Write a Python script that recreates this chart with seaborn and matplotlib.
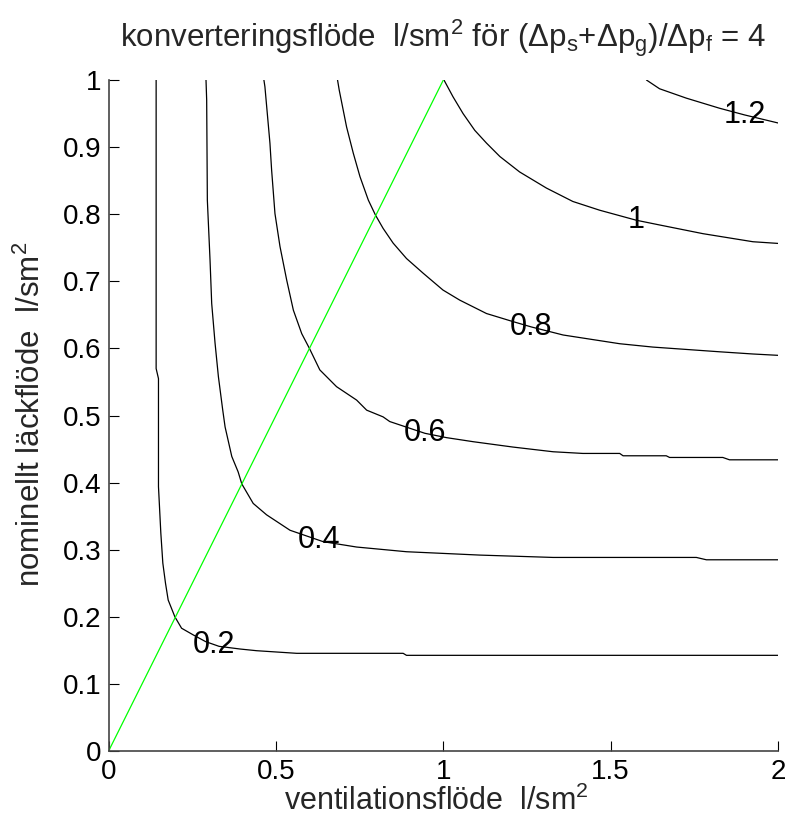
"""Contour chart of conversion flow vs ventilation and leakage flow."""
import matplotlib

matplotlib.use("Agg")
import matplotlib.pyplot as plt
import pandas as pd
import seaborn as sns

# contour levels and the points of each contour line
levels = [0.2, 0.4, 0.6, 0.8, 1.0, 1.2]

c02_x = [0.142, 0.142, 0.149, 0.149, 0.156, 0.162, 0.170, 0.178, 0.198, 0.218, 0.253, 0.290, 0.330, 0.393, 0.442, 0.562, 0.880, 0.890, 2.0]
c02_y = [1.0, 0.570, 0.555, 0.394, 0.325, 0.280, 0.250, 0.225, 0.200, 0.183, 0.173, 0.163, 0.156, 0.152, 0.1495, 0.1456, 0.1456, 0.1426, 0.1426]

c04_x = [0.291, 0.293, 0.295, 0.303, 0.308, 0.318, 0.328, 0.341, 0.348, 0.368, 0.387, 0.398, 0.432, 0.472, 0.542, 0.641, 0.741, 0.890, 1.000, 1.109, 1.328, 1.756, 1.786, 2.0]
c04_y = [1.0, 0.970, 0.821, 0.732, 0.667, 0.608, 0.558, 0.508, 0.483, 0.439, 0.416, 0.398, 0.369, 0.352, 0.329, 0.312, 0.304, 0.297, 0.2945, 0.292, 0.2885, 0.2885, 0.285, 0.285]

c06_x = [0.464, 0.467, 0.482, 0.487, 0.497, 0.512, 0.532, 0.552, 0.577, 0.600, 0.631, 0.681, 0.741, 0.771, 0.820, 0.840, 0.945, 1.010, 1.089, 1.208, 1.328, 1.417, 1.527, 1.537, 1.666, 1.676, 1.835, 1.855, 2.0]
c06_y = [1.0, 0.990, 0.906, 0.866, 0.801, 0.752, 0.702, 0.657, 0.622, 0.600, 0.568, 0.543, 0.523, 0.508, 0.498, 0.491, 0.4735, 0.467, 0.461, 0.453, 0.446, 0.4435, 0.4435, 0.440, 0.440, 0.4375, 0.4375, 0.434, 0.434]

c08_x = [0.684, 0.689, 0.711, 0.731, 0.751, 0.776, 0.797, 0.820, 0.850, 0.890, 0.940, 0.999, 1.049, 1.129, 1.208, 1.263, 1.358, 1.527, 1.626, 1.825, 1.925, 2.0]
c08_y = [1.0, 0.985, 0.930, 0.891, 0.856, 0.821, 0.799, 0.779, 0.757, 0.734, 0.712, 0.687, 0.672, 0.652, 0.640, 0.632, 0.620, 0.607, 0.602, 0.595, 0.5917, 0.5897]

c10_x = [1.002, 1.029, 1.059, 1.094, 1.129, 1.169, 1.228, 1.308, 1.387, 1.467, 1.577, 1.646, 1.776, 1.925, 2.0]
c10_y = [1.0, 0.975, 0.950, 0.925, 0.906, 0.886, 0.863, 0.839, 0.819, 0.806, 0.791, 0.784, 0.771, 0.759, 0.7565]

c12_x = [1.607, 1.646, 1.726, 1.825, 1.900, 2.0]
c12_y = [1.0, 0.987, 0.973, 0.958, 0.948, 0.936]

# where the level labels sit
label_text = ["0.2", "0.4", "0.6", "0.8", "1", "1.2"]
label_x = [0.315, 0.628, 0.945, 1.263, 1.577, 1.900]
label_y = [0.158, 0.315, 0.4735, 0.632, 0.791, 0.948]

# diagonal reference line
diag_x = [0.0, 1.0]
diag_y = [0.0, 1.0]

sns.set_theme(style="white")
plt.rcParams["font.family"] = ["Liberation Sans", "DejaVu Sans"]
plt.rcParams["mathtext.default"] = "regular"

contours = [(c02_x, c02_y), (c04_x, c04_y), (c06_x, c06_y), (c08_x, c08_y), (c10_x, c10_y), (c12_x, c12_y)]
frames = [pd.DataFrame({"x": cx, "y": cy, "level": lev}) for lev, (cx, cy) in zip(levels, contours)]
df = pd.concat(frames, ignore_index=True)

fig = plt.figure(figsize=(7.87, 8.38), dpi=100)
ax = fig.add_axes([0.138, 0.1038, 0.8506, 0.8007])

sns.lineplot(data=df, x="x", y="y", units="level", estimator=None, sort=False, color="black", linewidth=0.9, ax=ax, legend=False)
sns.lineplot(x=diag_x, y=diag_y, color="#00ff00", linewidth=0.9, ax=ax)

for txt, lx, ly in zip(label_text, label_x, label_y):
    ax.text(lx, ly, txt, fontsize=22, ha="center", va="center", color="black")

ax.set_xlim(0, 2)
ax.set_ylim(0, 1)
ax.set_xticks([0, 0.5, 1, 1.5, 2])
ax.set_xticklabels(["0", "0.5", "1", "1.5", "2"])
ax.set_yticks([i / 10 for i in range(11)])
ax.set_yticklabels(["0", "0.1", "0.2", "0.3", "0.4", "0.5", "0.6", "0.7", "0.8", "0.9", "1"])
ax.tick_params(direction="in", length=7, width=0.8, labelsize=20, colors="black", bottom=True, left=True)
ax.tick_params(axis="x", pad=6)
ax.tick_params(axis="y", pad=5)

for side in ["top", "right"]:
    ax.spines[side].set_visible(False)
for side in ["left", "bottom"]:
    ax.spines[side].set_color("#444444")
    ax.spines[side].set_linewidth(1.2)

ax.set_xlabel("ventilationsflöde  l/sm$^2$", fontsize=22)
ax.set_ylabel("nominellt läckflöde  l/sm$^2$", fontsize=22.5)
ax.xaxis.set_label_coords(0.49, -0.052)
ax.yaxis.set_label_coords(-0.092, 0.502)
ax.set_title("konverteringsflöde  l/sm$^2$ för (Δp$_s$+Δp$_g$)/Δp$_f$ = 4", fontsize=22.5, pad=24)

fig.savefig("out.png", dpi=100)
